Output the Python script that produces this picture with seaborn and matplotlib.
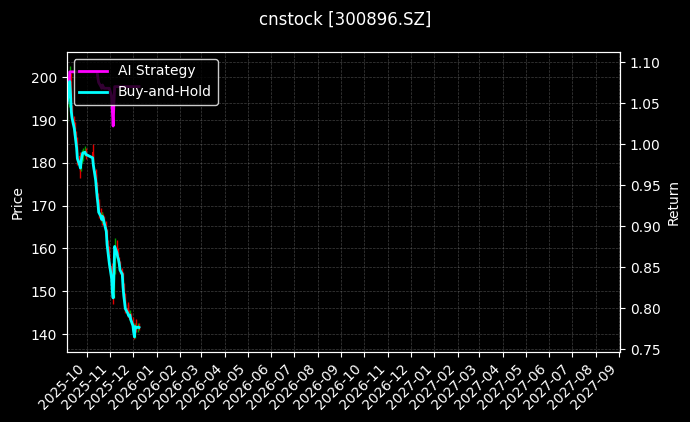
import numpy as np
import pandas as pd
import matplotlib
matplotlib.use("Agg")
import matplotlib.pyplot as plt
import matplotlib.dates as mdates
import seaborn as sns

title = "cnstock [300896.SZ]"

dates = [
    "2025-09-05", "2025-09-08", "2025-09-09", "2025-09-10", "2025-09-11", "2025-09-12",
    "2025-09-15", "2025-09-16", "2025-09-17", "2025-09-18", "2025-09-19",
    "2025-09-22", "2025-09-23", "2025-09-24", "2025-09-25", "2025-09-26",
    "2025-09-29", "2025-09-30", "2025-10-09", "2025-10-10",
    "2025-10-13", "2025-10-14", "2025-10-15", "2025-10-16", "2025-10-17",
    "2025-10-20", "2025-10-21", "2025-10-22", "2025-10-23", "2025-10-24",
    "2025-10-27", "2025-10-28", "2025-10-29", "2025-10-30", "2025-10-31",
    "2025-11-03", "2025-11-04", "2025-11-05", "2025-11-06", "2025-11-07",
    "2025-11-10", "2025-11-11", "2025-11-12", "2025-11-13", "2025-11-14",
    "2025-11-17", "2025-11-18", "2025-11-19", "2025-11-20", "2025-11-21",
    "2025-11-24", "2025-11-25", "2025-11-26", "2025-11-27", "2025-11-28",
    "2025-12-01", "2025-12-02", "2025-12-03", "2025-12-04", "2025-12-05",
    "2025-12-08", "2025-12-09",
]

opens = [191.0, 194.0, 198.0, 199.5, 195.5, 192.5, 190.0, 188.5, 186.0, 185.5, 183.0,
         181.5, 179.0, 178.5, 180.5, 181.0, 182.5, 182.8, 182.5, 181.0,
         178.0, 176.5, 174.0, 172.5, 170.5, 168.0, 167.5, 166.5, 167.5, 167.0,
         166.0, 164.0, 161.0, 159.5, 158.0, 156.0, 153.0, 150.0, 149.0, 154.5,
         160.5, 159.0, 158.0, 157.5, 156.5, 155.0, 154.0, 151.0, 149.0, 147.5,
         146.0, 145.0, 144.5, 144.0, 144.5, 143.5, 142.0, 140.5, 139.5, 141.8,
         141.5, 141.7]
highs = [195.5, 199.5, 202.7, 201.0, 197.0, 193.5, 191.0, 189.5, 187.5, 186.0, 184.0,
         182.5, 180.5, 181.5, 183.0, 183.5, 184.0, 183.5, 184.5, 182.0,
         178.5, 177.5, 175.5, 173.0, 171.5, 169.5, 168.5, 168.5, 168.0, 167.5,
         166.5, 164.5, 162.0, 160.5, 158.5, 156.5, 153.5, 151.0, 155.0, 162.5,
         162.0, 160.0, 159.0, 158.0, 157.0, 155.5, 154.5, 152.0, 149.5, 148.0,
         147.0, 147.5, 145.5, 145.5, 145.0, 144.0, 142.5, 141.0, 142.5, 143.5,
         142.5, 142.5]
lows = [189.5, 193.0, 196.5, 195.0, 191.0, 189.0, 186.5, 185.5, 184.0, 182.0, 179.5,
        178.0, 176.5, 178.0, 180.0, 180.5, 181.5, 181.0, 180.5, 178.5,
        174.5, 173.0, 171.0, 169.5, 167.0, 166.5, 165.5, 166.0, 166.0, 165.0,
        163.0, 160.0, 158.5, 157.0, 155.5, 152.0, 148.5, 147.0, 148.5, 154.0,
        158.0, 157.0, 156.5, 155.5, 154.0, 153.0, 150.0, 148.0, 146.5, 145.0,
        144.0, 144.0, 143.5, 143.0, 142.5, 141.0, 139.5, 138.8, 139.0, 140.5,
        140.5, 141.0]
closes = [193.5, 197.0, 199.0, 196.0, 192.0, 190.5, 188.0, 186.5, 185.0, 183.5, 181.0,
          179.5, 178.8, 180.5, 181.5, 182.3, 182.5, 182.0, 181.2, 179.5,
          176.0, 174.0, 172.0, 170.5, 168.5, 167.5, 166.8, 167.5, 167.0, 166.2,
          164.0, 161.0, 159.5, 158.0, 156.5, 153.0, 150.0, 148.5, 154.0, 160.5,
          159.0, 158.0, 157.5, 156.5, 155.0, 154.0, 151.0, 149.0, 147.5, 146.0,
          145.0, 144.5, 144.2, 144.5, 143.5, 142.0, 140.5, 139.4, 141.8, 141.5,
          141.7, 141.6]

ai_strategy = [1.050, 1.070, 1.088, 1.088, 1.088, 1.088, 1.088, 1.088, 1.088, 1.088, 1.088,
               1.088, 1.088, 1.088, 1.088, 1.088, 1.088, 1.088, 1.088, 1.088,
               1.088, 1.088, 1.088, 1.080, 1.075, 1.070, 1.068, 1.072, 1.070, 1.068,
               1.068, 1.068, 1.068, 1.068, 1.068, 1.058, 1.040, 1.022, 1.050, 1.070,
               1.070, 1.070, 1.070, 1.070, 1.070, 1.070, 1.070, 1.070, 1.070, 1.070,
               1.070, 1.070, 1.070, 1.070, 1.070, 1.070, 1.070, 1.070, 1.070, 1.070,
               1.070, 1.070]
buy_hold = [1.0475, 1.0657, 1.0762, 1.0606, 1.0397, 1.0318, 1.0188, 1.0110, 1.0031, 0.9953, 0.9823,
            0.9744, 0.9708, 0.9796, 0.9849, 0.9890, 0.9901, 0.9875, 0.9833, 0.9744,
            0.9562, 0.9457, 0.9353, 0.9274, 0.9170, 0.9118, 0.9081, 0.9118, 0.9092, 0.9050,
            0.8935, 0.8778, 0.8700, 0.8622, 0.8544, 0.8361, 0.8204, 0.8126, 0.8413, 0.8753,
            0.8674, 0.8622, 0.8596, 0.8544, 0.8465, 0.8413, 0.8257, 0.8152, 0.8074, 0.7996,
            0.7943, 0.7917, 0.7902, 0.7917, 0.7865, 0.7787, 0.7708, 0.7651, 0.7776, 0.7761,
            0.7771, 0.7766]

df = pd.DataFrame({
    "date": pd.to_datetime(dates),
    "open": opens, "high": highs, "low": lows, "close": closes,
    "AI Strategy": ai_strategy, "Buy-and-Hold": buy_hold,
})

plt.style.use("dark_background")
fig = plt.figure(figsize=(6.9, 4.22), dpi=100)
ax = fig.add_axes([0.0967, 0.1659, 0.8019, 0.7109])
ax2 = ax.twinx()

up = df["close"] >= df["open"]
colors = np.where(up, "#00a000", "#e00000")
ax.vlines(df["date"], df["low"], df["high"], colors=colors, linewidth=1.0)
ax.bar(df["date"], (df["close"] - df["open"]).abs().clip(lower=0.2),
       bottom=np.minimum(df["open"], df["close"]), width=0.8, color=colors, linewidth=0)

sns.lineplot(data=df, x="date", y="AI Strategy", ax=ax2, color="magenta",
             linewidth=2, label="AI Strategy")
sns.lineplot(data=df, x="date", y="Buy-and-Hold", ax=ax2, color="cyan",
             linewidth=2, label="Buy-and-Hold")

ax.set_xlim(pd.Timestamp("2025-09-05"), pd.Timestamp("2027-09-02"))
ax.set_ylim(135.8, 205.9)
ax2.set_ylim(0.7467, 1.1122)
ax.set_yticks([140, 150, 160, 170, 180, 190, 200])
ax2.set_yticks([0.75, 0.80, 0.85, 0.90, 0.95, 1.00, 1.05, 1.10])

ax.xaxis.set_major_locator(mdates.MonthLocator())
ax.xaxis.set_major_formatter(mdates.DateFormatter("%Y-%m"))
for lbl in ax.get_xticklabels():
    lbl.set_rotation(45)
    lbl.set_ha("right")

ax.set_xlabel("")
ax2.set_xlabel("")
ax.set_ylabel("Price")
ax2.set_ylabel("Return")

ax.grid(True, color="gray", linestyle="--", linewidth=0.5, alpha=0.5)
ax2.grid(True, color="gray", linestyle="--", linewidth=0.5, alpha=0.5)

ax2.legend(loc="upper left", facecolor="black", edgecolor="white", framealpha=0.8)
fig.suptitle(title, fontsize=12, y=0.975)

fig.savefig("out.png", dpi=100, facecolor="black")
